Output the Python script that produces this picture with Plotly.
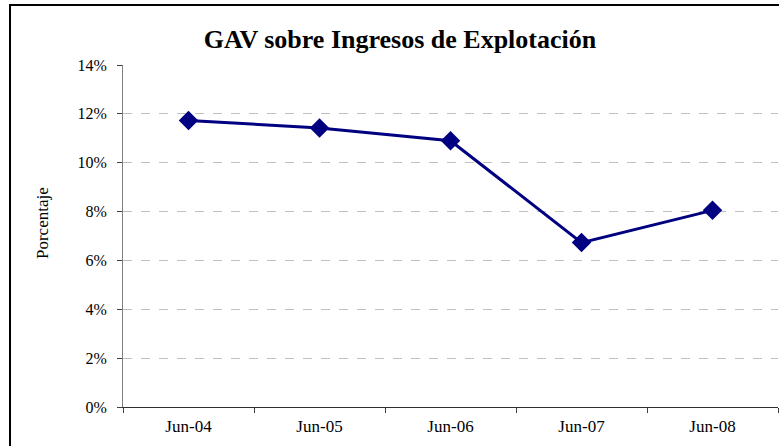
import plotly.graph_objects as go

# Chart data
periods = ['Jun-04', 'Jun-05', 'Jun-06', 'Jun-07', 'Jun-08']
gav_pct = [11.73, 11.42, 10.90, 6.73, 8.05]
y_ticks = [0, 2, 4, 6, 8, 10, 12, 14]
y_tick_labels = ['%d%%' % v for v in y_ticks]

SERIF = 'Liberation Serif, Times New Roman, serif'

PLOTLY_CONFIG = {
    'displayModeBar': False,
}

fig = go.Figure(
    data=[go.Scatter(
        x=periods,
        y=gav_pct,
        mode='lines+markers',
        line=dict(color='#000080', width=3),
        marker=dict(symbol='diamond', size=15, color='#000080'),
    )]
)

fig.update_layout(
    width=779,
    height=446,
    margin=dict(l=123, r=1, t=65, b=39),
    paper_bgcolor='white',
    plot_bgcolor='white',
    showlegend=False,
    font=dict(family=SERIF, size=16, color='black'),
    title=dict(
        text='<b>GAV sobre Ingresos de Explotación</b>',
        x=400 / 779, xanchor='center',
        y=1 - 39 / 446, yanchor='middle',
        font=dict(family=SERIF, size=26, color='black'),
    ),
)

fig.update_xaxes(
    type='category',
    showgrid=False,
    showline=True,
    linecolor='#303030',
    linewidth=1,
    ticks='outside',
    tickson='boundaries',
    ticklen=5,
    tickcolor='#404040',
    ticklabelstandoff=4,
    tickfont=dict(family=SERIF, size=17),
    range=[-0.5, 4.5],
)

fig.update_yaxes(
    range=[0, 14],
    tickvals=y_ticks,
    ticktext=y_tick_labels,
    showgrid=True,
    gridcolor='#c0c0c0',
    griddash='dash',
    gridwidth=1,
    zeroline=False,
    showline=True,
    linecolor='#808080',
    linewidth=1,
    ticks='outside',
    ticklen=5,
    tickcolor='#404040',
    ticklabelstandoff=7,
    tickfont=dict(family=SERIF, size=16),
)

# y axis title sits a bit above the plot centre in the original
fig.add_annotation(
    text='Porcentaje', textangle=-90,
    xref='paper', yref='paper',
    x=(42 - 123) / 655, y=(407 - 223) / 342,
    xanchor='center', yanchor='middle',
    showarrow=False,
    font=dict(family=SERIF, size=17, color='black'),
)

# Outer chart border, as in the spreadsheet export
fig.add_shape(
    type='rect', xref='paper', yref='paper',
    x0=-0.1725, x1=1.05, y0=-0.2, y1=1.1754,
    line=dict(color='black', width=2),
    layer='above',
)

# drop the browser's default body margin so the chart sits at the page origin
fig.write_html('out.html', config=PLOTLY_CONFIG,
               post_script="document.body.style.margin='0';")
